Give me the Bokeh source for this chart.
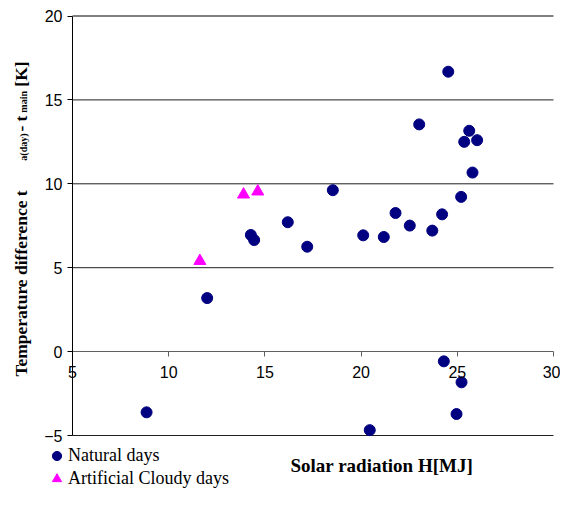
import math
from bokeh.plotting import figure
from bokeh.models import (FixedTicker, Legend, LegendItem, Label)
from bokeh.embed import file_html
from bokeh.resources import INLINE

# ---- data ----
natural_x = [8.85, 20.45, 24.3, 25.22, 24.96, 12.0, 14.27, 14.44, 16.19, 17.2,
             18.53, 24.53, 23.02, 25.62, 25.36, 26.03, 25.79, 25.2, 21.79, 24.21,
             22.53, 23.7, 20.11, 21.18]
natural_y = [-3.62, -4.68, -0.58, -1.83, -3.72, 3.19, 6.95, 6.65, 7.71, 6.25,
             9.62, 16.68, 13.54, 13.16, 12.50, 12.60, 10.67, 9.22, 8.26, 8.18,
             7.51, 7.21, 6.93, 6.83]
cloudy_x = [13.89, 14.63, 11.62]
cloudy_y = [9.36, 9.54, 5.40]
x_ticks = [5, 10, 15, 20, 25, 30]
y_ticks = [-5, 0, 5, 10, 15, 20]

SERIF = "Liberation Serif"
SANS = "Liberation Sans"

W, H = 560, 500
px_x = 481 / 25.0      # pixels per x unit
px_y = 419.5 / 25.0    # pixels per y unit
x0 = x_ticks[0] - 72 / px_x
x1 = x_ticks[0] + (W - 72) / px_x
y1 = y_ticks[-1] + 15.5 / px_y
y0 = y_ticks[0] - (H - 435) / px_y

p = figure(width=W, height=H, x_range=(x0, x1), y_range=(y0, y1),
           output_backend="svg", toolbar_location=None,
           min_border=0, min_border_left=0, min_border_right=0,
           min_border_top=0, min_border_bottom=0)
p.background_fill_color = "white"
p.border_fill_color = "white"
p.outline_line_color = None
p.grid.visible = False

# horizontal grid lines across the plotting area
grid_levels = [t for t in y_ticks if t != 0]
p.segment(x0=[x_ticks[0]] * len(grid_levels[:-1]), x1=[x_ticks[-1]] * len(grid_levels[:-1]),
          y0=grid_levels[:-1], y1=grid_levels[:-1], line_color="#202020", line_width=1)
p.segment(x0=[x_ticks[0]], x1=[x_ticks[-1]], y0=[y_ticks[-1]], y1=[y_ticks[-1]],
          line_color="#808080", line_width=2)

# axes at fixed locations
p.xaxis.ticker = FixedTicker(ticks=x_ticks)
p.yaxis.ticker = FixedTicker(ticks=y_ticks)
p.xaxis.fixed_location = 0
p.yaxis.fixed_location = x_ticks[0]
p.xaxis.bounds = (x_ticks[0], x_ticks[-1])
p.yaxis.bounds = (y_ticks[0], y_ticks[-1])
for ax in (p.xaxis, p.yaxis):
    ax.minor_tick_line_color = None
    ax.major_tick_in = 0
    ax.major_tick_out = 5
    ax.major_label_text_font = SANS
    ax.major_label_text_font_size = "16px"
    ax.major_label_text_color = "black"
p.xaxis.axis_line_color = "#606060"
p.xaxis.major_tick_line_color = "#606060"
p.xaxis.major_label_standoff = 9
p.yaxis.axis_line_color = "black"
p.yaxis.major_tick_line_color = "black"
p.yaxis.major_label_standoff = 5

# points
r_nat = p.scatter(natural_x, natural_y, marker="circle", size=11,
                  fill_color="#000080", line_color="#000080")
r_cld = p.scatter(cloudy_x, cloudy_y, marker="triangle", size=12,
                  fill_color="#FF00FF", line_color="#FF00FF")

legend = Legend(items=[LegendItem(label="Natural days", renderers=[r_nat]),
                       LegendItem(label="Artificial Cloudy days", renderers=[r_cld])],
                location=(45, 10), orientation="vertical",
                glyph_width=23, glyph_height=23, label_height=23,
                label_standoff=0, spacing=0, padding=0, margin=0,
                border_line_color=None, background_fill_alpha=0,
                label_text_font=SERIF, label_text_font_size="18px",
                label_text_color="black")
p.add_layout(legend)

# x-axis title
p.add_layout(Label(x=16.33, y=-6.8, text="Solar radiation H[MJ]",
                   text_font=SERIF, text_font_size="19px", text_font_style="bold",
                   text_align="left", text_baseline="middle", text_color="black"))

# y-axis title with subscripts
ang = math.pi / 2
segments = [
    ("Temperature difference t", 2.30, -1.49, "17.5px"),
    ("a(day)", 2.46, 11.38, "10px"),
    ("- t", 2.30, 13.11, "17.5px"),
    ("main", 2.46, 14.24, "10px"),
    ("[K]", 2.30, 15.79, "17.5px"),
]
for txt, lx, ly, fs in segments:
    p.add_layout(Label(x=lx, y=ly, text=txt, angle=ang, text_font=SERIF,
                       text_font_size=fs, text_font_style="bold",
                       text_align="left", text_baseline="alphabetic",
                       text_color="black"))

open("out.html", "w").write(file_html(p, INLINE))
